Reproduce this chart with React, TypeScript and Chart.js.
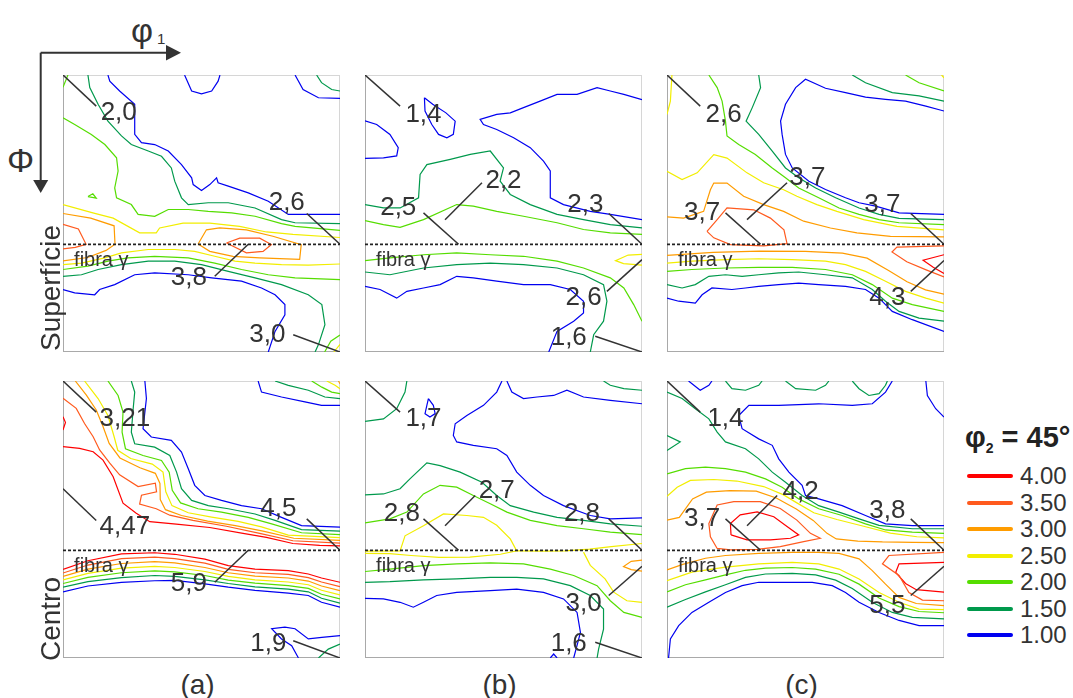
import React, { useEffect, useRef } from "react";
import { Chart, registerables } from "chart.js";

Chart.register(...registerables);

type Pt = [number, number];
type Note = { text: string; tip: Pt; end: Pt; at: Pt };

// ODF contour levels (legend order, highest first)
const levelValues = [4.0, 3.5, 3.0, 2.5, 2.0, 1.5, 1.0];
const levelColors = ["#ff0000", "#ff5a1e", "#ff9c00", "#f2ee00", "#55dd00", "#00994c", "#0000f0"];
const levelTicks = ["4.00", "3.50", "3.00", "2.50", "2.00", "1.50", "1.00"];

const columnLabels = ["(a)", "(b)", "(c)"];
const rowLabels = ["Superfície", "Centro"];

// gamma fibre position (Φ, degrees) and its caption
const GAMMA_PHI = 55;
const fibreCaption = "fibra γ";
const fibreCaptionAt: Pt = [3.6, 60.4];

/* ---------- Superfície (a) ---------- */
const supA_blue1: Pt[] = [[39.5, 0], [41.8, 5.2], [45, 6.1], [48.3, 5.2], [50.4, 2], [51, 0]];
const supA_blue2: Pt[] = [[75.4, 0], [78, 4.7], [83, 7.4], [90, 7.6]];
const supA_blue3: Pt[] = [[14.6, 0], [15.2, 2], [18.4, 5.2], [23.3, 9.5], [23.3, 19.3], [25.5, 22], [29.8, 22.6], [34.2, 24.7], [38.5, 29.1], [41.8, 33.4], [42.3, 35.6], [45, 37.5], [47.7, 35.6], [49.9, 33.4], [50.4, 35], [53.7, 36.1], [60.2, 38.3], [66.7, 41], [73.2, 45.3], [90, 45.3]];
const supA_blue4: Pt[] = [[0, 69.7], [3.8, 70.8], [10.3, 71.4], [11.9, 69.7], [16.8, 68.1], [23.3, 64.9], [29.8, 64.3], [40.7, 64.9], [48.3, 65.9], [58, 67], [64.5, 69.2], [68.9, 71.4], [72.1, 74.6], [72.1, 77.9], [68.9, 83.3], [66.7, 90]];
const supA_green1: Pt[] = [[8.1, 0], [8.7, 4.1], [11.4, 9.5], [14.6, 15], [19, 19.8], [22.2, 22.6], [27.7, 24.7], [32, 26.4], [35.2, 30.2], [36.3, 34.5], [38.5, 39.9], [40.7, 42.1], [47.2, 41.5], [53.7, 41.5], [62.4, 43.2], [71, 47], [75.4, 48], [90, 48.3]];
const supA_green2: Pt[] = [[82.4, 0], [84, 2.5], [87.3, 4.7], [90, 5.2]];
const supA_green3: Pt[] = [[0, 65.4], [6, 64.9], [11.4, 63.2], [19, 61.6], [27.7, 60.5], [36.3, 60.5], [45, 61.6], [53.7, 63.8], [62.4, 65.9], [71, 68.1], [79.7, 71.4], [84.1, 74.6], [85.1, 81.1], [83, 87.6], [81.9, 90]];
const supA_lime1: Pt[] = [[0, 4], [1.6, 0]];
const supA_lime2: Pt[] = [[8.1, 39.5], [9.7, 38.6], [10.8, 40], [8.1, 39.5]];
const supA_lime3: Pt[] = [[0, 13.9], [3.8, 16.1], [9.2, 19.3], [13.6, 22.6], [17.4, 26.9], [17.9, 31.2], [16.8, 36.7], [17.4, 39.9], [22.2, 42.1], [24.4, 45.3], [29.8, 45.9], [34.2, 43.7], [40.7, 43.7], [47.2, 44.3], [54.8, 44.8], [62.4, 45.9], [71, 48.3], [75.4, 49.2], [90, 50.5]];
const supA_lime4: Pt[] = [[0, 63.2], [8.1, 62.1], [14.6, 60.5], [21.1, 59.4], [29.8, 58.9], [40.7, 59.4], [49.3, 61.1], [58, 63.2], [66.7, 64.9], [75.4, 65.9], [90, 66.5]];
const supA_lime5: Pt[] = [[85, 90], [87, 86.5], [90, 84.5]];
const supA_yellow1: Pt[] = [[0, 42.1], [9.7, 44.8], [16.3, 46.5], [24.9, 51.3], [30.3, 51.3], [31.4, 49.7], [39, 48.1], [47.7, 48.1], [57.4, 49.2], [66.1, 51], [74.7, 51.8], [90, 52.8]];
const supA_yellow2: Pt[] = [[0, 61.6], [6, 61.1], [13.6, 59.4], [19, 57.8], [27.7, 56.7], [36.3, 56.7], [42.8, 57.3], [49.3, 58.9], [55.9, 60.5], [62.4, 61.1], [71, 61.6], [79.7, 61.8], [90, 61.4]];
const supA_yellow3: Pt[] = [[88, 90], [90, 87.5]];
const supA_orange1: Pt[] = [[0, 45], [9, 46.5], [16.6, 49], [16.9, 55], [14, 57], [8, 59.3], [0, 60.4]];
const supA_orange2: Pt[] = [[43.9, 54.9], [46.6, 50.3], [50.9, 49.7], [59.6, 50.3], [68.2, 52.4], [77.4, 55.1], [76.9, 59.9], [63.9, 59.4], [55.2, 58.9], [47.7, 57.3], [43.9, 54.9]];
const supA_tomato1: Pt[] = [[0, 48.5], [5, 50], [7.5, 55], [4, 56], [0, 56.5]];
const supA_tomato2: Pt[] = [[53.1, 54.6], [57.4, 53], [63.9, 53], [67.7, 55.1], [65, 57.3], [59.6, 57.8], [53.1, 54.6]];
const supA_notes: Note[] = [
  { text: "2,0", tip: [0, 0], end: [10.8, 10.1], at: [18.1, 12.3] },
  { text: "2,6", tip: [90, 55], end: [79.2, 45], at: [72.7, 41.5] },
  { text: "3,8", tip: [60.2, 55], end: [49.3, 65.4], at: [40.9, 65.9] },
  { text: "3,0", tip: [90, 90], end: [74.8, 84.4], at: [66.4, 84.4] },
];

/* ---------- Superfície (b) ---------- */
const supB_blue1: Pt[] = [[0, 14.9], [3.8, 16.1], [8.1, 19.3], [10.8, 23.6], [10.3, 26.3], [6, 26.9], [0, 27.1]];
const supB_blue2: Pt[] = [[19.3, 7.4], [22, 9.5], [26.3, 12.3], [29.3, 15], [28.7, 19.3], [26.6, 20.4], [23.9, 19.3], [21.7, 16.1], [19.5, 11.7], [19.3, 7.4]];
const supB_blue3: Pt[] = [[90, 8], [84.1, 6.3], [79.7, 5.2], [75.4, 4.1], [68.9, 6.3], [62.4, 6.3], [56.9, 8.5], [51.5, 10.6], [47.2, 12.3], [42.8, 12.8], [37.4, 14.4], [38.5, 16.1], [42.8, 17.7], [48.3, 20.4], [53.7, 23.6], [58, 28], [60.2, 31.2], [60.2, 36.7], [60.2, 39.9], [64.5, 42.1], [73.2, 44.3], [79.7, 45.3], [90, 47]];
const supB_blue4: Pt[] = [[0, 68.7], [4.9, 69.7], [10.3, 72.5], [13.6, 70.3], [19, 69.2], [24.4, 68.1], [29.8, 65.4], [35.2, 65.9], [42.8, 67], [51.5, 68.1], [60.2, 68.1], [66.7, 69.7], [71, 73.5], [71, 77.3], [67.8, 80], [62.4, 83.3], [59.7, 90]];
const supB_green1: Pt[] = [[0, 42.1], [6, 43.2], [11.4, 43.2], [17.4, 39.9], [17.9, 32.3], [20.1, 29.1], [27.7, 27.4], [34.2, 25.8], [40.7, 24.7], [45, 30.2], [43.9, 34.5], [47.2, 38.8], [53.7, 42.1], [62.4, 45.3], [71, 47], [79.7, 48.6], [90, 49.7]];
const supB_green2: Pt[] = [[0, 64], [8.1, 64.9], [19, 62.7], [29.8, 61.6], [40.7, 61.1], [51.5, 61.6], [62.4, 62.7], [71, 64.9], [77.5, 68.1], [78.6, 73.5], [77.5, 80], [74.3, 84.4], [73.2, 90]];
const supB_lime1: Pt[] = [[0, 47.3], [6, 48.6], [11.4, 49.5], [19, 47], [29.8, 42.1], [35.2, 42.6], [42.8, 44.3], [51.5, 45.9], [62.4, 48], [71, 50.2], [79.7, 51.3], [90, 51.8]];
const supB_lime2: Pt[] = [[0, 60.3], [8.1, 59.4], [19, 58.4], [29.8, 57.8], [40.7, 58.4], [51.5, 58.9], [62.4, 60.5], [71, 62.7], [79.7, 65.9], [84.1, 69.2], [87.3, 74.6], [90, 80]];
const supB_yellow1: Pt[] = [[90, 58.3], [85.5, 58.5], [81.4, 60.3], [84, 61.3], [90, 61.8]];
const supB_notes: Note[] = [
  { text: "1,4", tip: [0, 0], end: [11.4, 10.1], at: [19, 12.8] },
  { text: "2,2", tip: [38, 35], end: [26, 47], at: [45, 34.5] },
  { text: "2,5", tip: [30.4, 55], end: [19, 44.8], at: [10.8, 43.2] },
  { text: "2,3", tip: [90, 55], end: [79.2, 45], at: [71.6, 42.1] },
  { text: "2,6", tip: [90, 60], end: [78.6, 70.3], at: [71, 72.5] },
  { text: "1,6", tip: [90, 90], end: [74.8, 84.9], at: [66.2, 85.5] },
];

/* ---------- Superfície (c) ---------- */
const supC_blue1: Pt[] = [[90, 11.7], [84.1, 10.1], [77.5, 8.5], [71, 7.9], [64.5, 7.2], [58, 5.7], [51.5, 4.3], [45, 1.4], [41.8, 4.1], [38.5, 9.5], [36.9, 15], [37.4, 19.3], [38.5, 25.8], [40.7, 30.2], [46.1, 34.5], [51.5, 37.2], [58, 39.9], [62.4, 41.5], [67.8, 42.6], [75.4, 44.8], [90, 45.3]];
const supC_blue2: Pt[] = [[0, 72.5], [3.8, 73.5], [9.2, 74.1], [11.4, 71.4], [14.6, 69.2], [21.1, 69.7], [25.5, 69.2], [29.8, 68.7], [36.3, 68.1], [42.8, 67.6], [49.3, 68.1], [58, 68.7], [64.5, 69.7], [68.9, 72.5], [73.2, 76.8], [79.7, 79.5], [90, 83.3]];
const supC_green1: Pt[] = [[29.8, 0], [30.4, 4.1], [27.7, 10.6], [25.7, 15], [29.8, 19.3], [34.2, 24.7], [38.5, 30.2], [42.8, 33.4], [48.3, 36.7], [54.8, 39.9], [62.4, 43.2], [68.9, 45.3], [75.4, 46.6], [90, 47]];
const supC_green2: Pt[] = [[60.2, 0], [64.5, 2.5], [73.2, 5.7], [81.9, 6.8], [90, 8.5]];
const supC_green3: Pt[] = [[0, 68.1], [4.9, 69.2], [9.2, 68.1], [13.6, 65.4], [19, 64.9], [24.4, 65.4], [29.8, 64.9], [36.3, 64.3], [42.8, 64], [51.5, 64.9], [60.2, 65.9], [66.7, 69.7], [71, 73.5], [75.4, 76.8], [81.9, 79], [90, 80]];
const supC_lime1: Pt[] = [[13.6, 0], [16.3, 4.1], [17.9, 8.5], [19, 15], [19.5, 19.8], [23.3, 22.6], [28.7, 25.8], [34.2, 30.2], [38.5, 33.4], [42.8, 36.7], [49.3, 39.9], [55.9, 43.2], [62.4, 45.3], [68.9, 47], [75.4, 48], [90, 48.6]];
const supC_lime2: Pt[] = [[77.5, 0], [81.9, 2.5], [90, 5.2]];
const supC_lime3: Pt[] = [[0, 63.8], [8.1, 63.2], [19, 62.7], [29.8, 62.5], [40.7, 62.5], [51.5, 63.2], [60.2, 64.9], [66.7, 68.1], [73.2, 72.5], [79.7, 74.6], [90, 76.8]];
const supC_yellow1: Pt[] = [[0, 31.3], [4.9, 34], [9.8, 31.8], [15.2, 25.9], [19.5, 27], [26, 31.8], [31.4, 35], [37.9, 37.3], [42.2, 39.4], [48.7, 42.1], [55.2, 44.3], [63.9, 47], [74.7, 49.2], [90, 50.3]];
const supC_yellow2: Pt[] = [[1.6, 0], [1.1, 8.5], [0, 12.8]];
const supC_yellow3: Pt[] = [[89.2, 0], [90, 0.9]];
const supC_yellow4: Pt[] = [[0, 61.1], [8.1, 60.5], [19, 60], [29.8, 59.7], [40.7, 60], [51.5, 60.5], [58, 61.6], [64.5, 63.8], [71, 67], [77.5, 70.3], [84.1, 72.5], [90, 74.1]];
const supC_orange1: Pt[] = [[0, 46.1], [5.4, 46.5], [11.9, 44.3], [14.1, 37.3], [15.2, 35.1], [19.5, 35.1], [24.9, 39.4], [31.4, 42.1], [37.9, 44.3], [44.4, 47.5], [53.1, 49.7], [61.7, 51.3], [72.6, 52.4], [90, 52.6]];
const supC_orange2: Pt[] = [[0, 58.6], [15, 57.6], [30, 57.2], [45, 57.3], [57, 57.9], [65, 59.5], [72, 63.5], [78, 67.2], [84, 69.8], [90, 71.2]];
const supC_tomato1: Pt[] = [[13, 50.8], [16.3, 47], [19.5, 43.2], [28.2, 43.8], [33.6, 46.5], [38, 50.3], [39, 54.8], [31.4, 55.5], [20.6, 55.1], [15.2, 52.9], [13, 50.8]];
const supC_tomato2: Pt[] = [[90, 55.5], [74.7, 55.9], [73.1, 57.5], [77.9, 60.7], [84.4, 63.4], [90, 65.6]];
const supC_red1: Pt[] = [[90, 58.4], [83.2, 60.2], [86.5, 62.5], [90, 64.5]];
const supC_notes: Note[] = [
  { text: "2,6", tip: [0, 0], end: [10.8, 10.1], at: [18.4, 12.8] },
  { text: "3,7", tip: [39, 35], end: [26, 47], at: [45.6, 33.4] },
  { text: "3,7", tip: [30.4, 55], end: [19, 44.8], at: [11.4, 44.8] },
  { text: "3,7", tip: [90, 55], end: [79.2, 45], at: [70, 42.1] },
  { text: "4,3", tip: [90, 60.3], end: [79.2, 70.3], at: [71.6, 72.5] },
];

/* ---------- Centro (a) ---------- */
const cenA_blue1: Pt[] = [[26.6, 0], [27.1, 5.7], [26, 15.5], [28.7, 18.2], [35.2, 19.3], [38.5, 23.1], [40.7, 28.5], [42.8, 33.9], [46.1, 37.2], [51.5, 38.8], [58, 40.5], [64.5, 41.5], [71, 44.3], [77.5, 47], [90, 47.5]];
const cenA_blue2: Pt[] = [[0, 68.5], [8.1, 66.6], [19, 65.4], [29.8, 64.9], [36.3, 64.8], [46.1, 65.9], [53.7, 67], [62.4, 68], [73.2, 68.9], [79.7, 69.7], [84, 71.9], [90, 73.5]];
const cenA_blue3: Pt[] = [[63.4, 0], [64.5, 3.6], [71, 5.2], [78.6, 6.8], [84, 7.9], [90, 7.9]];
const cenA_blue4: Pt[] = [[90, 82.7], [84.1, 83.3], [79.7, 83.8], [75.4, 80.5], [72.1, 80], [67.8, 80.5], [71, 83.8], [74.3, 86], [76.5, 90]];
const cenA_green1: Pt[] = [[22.2, 0], [23.3, 3.6], [22.8, 9], [22.2, 16.6], [23.3, 20.4], [29.8, 21.5], [34.7, 24.2], [36.9, 29.6], [38.5, 35], [41.8, 38.8], [47.2, 40.5], [53.7, 41.5], [62.4, 43.2], [68.9, 45.3], [77.5, 48.3], [90, 48.8]];
const cenA_green2: Pt[] = [[0, 67], [8.1, 65.2], [19, 63.9], [29.8, 63.2], [36.3, 63.5], [46.1, 64.6], [53.7, 65.8], [62.4, 66.9], [73.2, 67.6], [79.7, 68.5], [84, 70.6], [90, 72.2]];
const cenA_green3: Pt[] = [[68.9, 0], [73.2, 1.4], [79.7, 3], [85.1, 5.2], [90, 5.7]];
const cenA_green4: Pt[] = [[83, 90], [86.2, 87.1], [90, 85.5]];
const cenA_lime1: Pt[] = [[14.6, 0], [17.9, 4.7], [19.5, 10.1], [19.2, 16.6], [20.3, 22], [26, 24.2], [32, 25.8], [34.5, 29.6], [35.5, 35.5], [38.2, 39.6], [43.9, 41.5], [51.5, 42.6], [60.2, 44.3], [67.8, 46.4], [77.5, 49.3], [90, 49.9]];
const cenA_lime2: Pt[] = [[0, 65.8], [8.1, 63.8], [19, 62.3], [29.8, 61.7], [36.3, 62], [46.1, 63.2], [53.7, 64.7], [62.4, 65.7], [73.2, 66.5], [79.7, 67.4], [84, 69.3], [90, 70.8]];
const cenA_lime3: Pt[] = [[80.8, 0], [84.1, 2], [87.3, 3.6], [90, 4.1]];
const cenA_yellow1: Pt[] = [[7, 0], [11.4, 5.7], [14.6, 11.2], [16.5, 17.7], [17.8, 22.5], [22, 25.2], [29, 27], [32.5, 29.6], [33.4, 36], [35.4, 40.5], [40.7, 42.8], [48.3, 44.2], [56.9, 45.6], [64.5, 47.4], [73.2, 50.1], [90, 50.9]];
const cenA_yellow2: Pt[] = [[0, 64.6], [8.1, 62.5], [19, 60.8], [29.8, 60.2], [36.3, 60.6], [46.1, 61.9], [53.7, 63.5], [62.4, 64.6], [73.2, 65.3], [79.7, 66.2], [84, 68], [90, 69.5]];
const cenA_yellow3: Pt[] = [[85.7, 0], [88.4, 1.4], [90, 2.5]];
const cenA_orange1: Pt[] = [[4, 0], [7.6, 4.6], [10.8, 9.4], [13, 14.8], [15, 20.3], [18.5, 25], [25, 28.2], [30, 30], [31.5, 33.3], [31.6, 38.5], [33.3, 41.8], [38.5, 43.7], [47, 45.5], [56, 47], [65, 48.8], [75, 51.1], [90, 51.8]];
const cenA_orange2: Pt[] = [[0, 63.5], [8.1, 61.1], [19, 59.3], [29.8, 58.7], [36.3, 59.1], [46.1, 60.6], [53.7, 62.3], [62.4, 63.4], [73.2, 64], [79.7, 65], [84, 66.6], [90, 68.1]];
const cenA_orange3: Pt[] = [[89.5, 0], [90, 0.9]];
const cenA_tomato1: Pt[] = [[0, 5.6], [4.3, 8.9], [7, 13.8], [9.8, 18.1], [11.9, 22.4], [15.2, 26.7], [18.4, 30.5], [24.4, 34.3], [30, 33.2], [30.4, 36], [25.5, 37.1], [24.9, 40], [30.3, 41.5], [34.7, 43.6], [42.2, 45.3], [53.1, 47.2], [63.9, 49.5], [74.7, 51.9], [90, 52.7]];
const cenA_tomato2: Pt[] = [[0, 62.4], [8.1, 59.8], [19, 57.7], [29.8, 57.2], [36.3, 57.7], [46.1, 59.2], [53.7, 61.2], [62.4, 62.3], [73.2, 62.8], [79.7, 63.9], [84, 65.3], [90, 66.8]];
const cenA_red1: Pt[] = [[0, 21.3], [5.4, 21.9], [9.8, 23], [13, 25.7], [16.3, 31.1], [19.5, 39.7], [23.8, 43], [28.2, 45.7], [36.8, 46.5], [47.7, 47.6], [58.5, 49.5], [66.1, 50.8], [74.7, 52.8], [83.4, 53.4], [90, 53.6]];
const cenA_red2: Pt[] = [[0, 61.2], [8.1, 58.4], [19, 56.2], [29.8, 55.8], [36.3, 56.3], [46.1, 57.9], [53.7, 60], [62.4, 61.1], [73.2, 61.6], [79.7, 62.7], [84, 64], [90, 65.4]];
const cenA_red3: Pt[] = [[0, 11.6], [0.8, 13.5], [0, 15.9]];
const cenA_notes: Note[] = [
  { text: "3,21", tip: [0, 0], end: [10.8, 10.1], at: [20.1, 12.3] },
  { text: "4,47", tip: [0, 35], end: [10.8, 45.3], at: [20.1, 47.5] },
  { text: "4,5", tip: [90, 55], end: [79.2, 44.8], at: [70, 41.5] },
  { text: "5,9", tip: [60.2, 55], end: [49.3, 65.4], at: [40.9, 66] },
  { text: "1,9", tip: [90, 90], end: [74.8, 84.4], at: [66.7, 85.5] },
];

/* ---------- Centro (b) ---------- */
const cenB_blue1: Pt[] = [[20.6, 5.7], [22.2, 7.9], [22.8, 10.6], [21.1, 11.7], [19.5, 10.6], [20.1, 7.9], [20.6, 5.7]];
const cenB_blue2: Pt[] = [[90, 7.4], [79.7, 6.3], [71, 5.2], [65.6, 3], [61.3, 4.7], [55.9, 5.2], [51.5, 5.7], [47.7, 3.6], [46.1, 0]];
const cenB_blue3: Pt[] = [[44.5, 0], [42.8, 3.6], [38.5, 7.9], [33.1, 11.2], [29.3, 13.9], [28.7, 17.7], [29.8, 19.8], [35.2, 20.9], [42.8, 22], [46.1, 24.2], [49.3, 29.6], [53.7, 33.9], [58, 37.2], [64.5, 40.5], [73.2, 43.7], [79.7, 44.8], [90, 44.5]];
const cenB_blue4: Pt[] = [[0, 70.6], [6, 70.8], [11.4, 71.9], [15.7, 73.5], [19, 71.9], [23.3, 69.7], [29.8, 68.7], [40.7, 68.1], [49.3, 67.6], [58, 68.7], [64.5, 70.8], [68.9, 75.2], [70, 81.7], [68.9, 85.9], [67.8, 90]];
const cenB_blue5: Pt[] = [[60.2, 90], [61.3, 88.7], [62.4, 90]];
const cenB_green1: Pt[] = [[13.6, 0], [13, 3.6], [10.3, 9], [6, 12.3], [0, 13.1]];
const cenB_green2: Pt[] = [[77.5, 0], [79.7, 1.4], [84.1, 2.5], [90, 3]];
const cenB_green3: Pt[] = [[0, 37], [6, 36.7], [11.4, 35], [14.6, 31.8], [20.1, 26.6], [24.4, 27.5], [30.9, 29.6], [38, 32.9], [42.8, 37.2], [47.2, 40.5], [54.8, 42.6], [62.4, 44.3], [71, 45.3], [79.7, 46.4], [90, 47.2]];
const cenB_green4: Pt[] = [[0, 65.4], [8.1, 65.2], [19, 64.6], [29.8, 64.3], [40.7, 63.8], [49.3, 63.8], [58, 64.3], [66.7, 66.5], [73.2, 69.7], [77.5, 74.1], [77.5, 80.6], [75.9, 87.1], [75.4, 90]];
const cenB_lime1: Pt[] = [[0, 46.1], [8.1, 44.8], [13.6, 42.6], [19, 36.7], [24.4, 33.9], [29.8, 34.5], [35.2, 37.2], [40.7, 39.9], [46.1, 42.6], [53.7, 45.3], [62.4, 47], [71, 48], [79.7, 49.1], [90, 49.9]];
const cenB_lime2: Pt[] = [[0, 61.9], [8.1, 61.1], [19, 60], [29.8, 59.4], [40.7, 59.1], [51.5, 59.4], [60.2, 61.1], [67.8, 63.2], [75.4, 66.5], [79.7, 71.4], [84.1, 75.2], [90, 76.8]];
const cenB_yellow1: Pt[] = [[0, 55.3], [11.4, 55.2], [13, 50.3], [19, 47], [25.5, 43.2], [33.1, 43.7], [38.5, 44.3], [42.8, 46.9], [47.2, 51.3], [49.3, 55.2], [44, 56.3], [34, 57.2], [24, 57.3], [15, 56.7], [8, 56.1], [0, 56]];
const cenB_yellow2: Pt[] = [[49.3, 55.2], [58, 55.3], [65, 55.2], [73, 54.6], [80, 53.8], [90, 52.8]];
const cenB_yellow3: Pt[] = [[71, 55.6], [73.2, 59.9], [78, 64.3], [80.8, 68.6], [85.1, 71.4], [90, 71.9]];
const cenB_orange1: Pt[] = [[90, 58.2], [86.5, 58.6], [84, 60.3], [86.5, 61.3], [90, 61.8]];
const cenB_notes: Note[] = [
  { text: "1,7", tip: [0, 0], end: [11.4, 10.1], at: [19, 12.3] },
  { text: "2,7", tip: [35.8, 37.2], end: [26, 47], at: [42.8, 35.6] },
  { text: "2,8", tip: [30.4, 55], end: [19, 44.8], at: [12, 43.2] },
  { text: "2,8", tip: [90, 55], end: [79.2, 44.8], at: [70.5, 43.2] },
  { text: "3,0", tip: [90, 60.2], end: [79.2, 69.7], at: [71, 72.5] },
  { text: "1,6", tip: [90, 90], end: [74.8, 84.9], at: [66.2, 85.5] },
];

/* ---------- Centro (c) ---------- */
const cenC_blue1: Pt[] = [[7, 0], [10.8, 3], [13.6, 1.4], [14.6, 0]];
const cenC_blue2: Pt[] = [[84.1, 0], [84.6, 4.7], [87.3, 9], [90, 11.7]];
const cenC_blue3: Pt[] = [[73.2, 0], [71, 3.6], [66.7, 7.4], [60.2, 7.9], [49.3, 7.4], [36.3, 7.9], [26.6, 7.9], [23.3, 11.2], [24.4, 15.5], [29.8, 18.8], [34.2, 20.9], [36.3, 25.3], [39.6, 29.6], [43.9, 33.9], [45, 37.2], [49.3, 38.3], [56.9, 40.5], [64.5, 43.7], [71, 46.4], [79.7, 47], [90, 47]];
const cenC_blue4: Pt[] = [[0.5, 90], [1.1, 83.8], [3.8, 79.5], [8.1, 75.2], [13.6, 71.9], [19, 68.7], [24.4, 66.5], [29.8, 65.4], [40.7, 65.4], [47.2, 65.4], [53.7, 66.5], [58, 68.7], [62.4, 71.9], [68.9, 75.2], [75.4, 77.8], [81.9, 79.5], [90, 79.5]];
const cenC_green1: Pt[] = [[19, 0], [21.1, 2.5], [25.5, 3], [29.8, 1.4], [30.9, 0]];
const cenC_green2: Pt[] = [[38.5, 0], [41.8, 2.5], [48.3, 3], [51.5, 1.4], [52.6, 0]];
const cenC_green3: Pt[] = [[60.2, 0], [62.4, 2.5], [65.6, 4.7], [68.9, 4.1], [71, 1.4], [71.6, 0]];
const cenC_green4: Pt[] = [[0, 17.7], [4.3, 19.8], [0, 22.6]];
const cenC_green5: Pt[] = [[0, 3.6], [4.9, 5.7], [9.2, 9], [13.6, 12.3], [16.3, 16.6], [19, 19.8], [25.5, 22], [29.8, 25.3], [34.2, 29.6], [38.5, 32.9], [43.9, 37.2], [49.3, 40.5], [55.9, 42.6], [62.4, 44.8], [68.9, 46.9], [79.7, 48], [90, 48]];
const cenC_green6: Pt[] = [[0, 73.5], [6, 71], [12.5, 68.5], [19, 66.2], [25.5, 63.8], [32, 62.7], [40.7, 62.5], [48.3, 63], [54.8, 64.7], [60.2, 67.4], [66.7, 71.9], [73.2, 75.2], [79.7, 76.8], [90, 77.3]];
const cenC_lime1: Pt[] = [[0, 30.2], [6, 28.5], [12.5, 28], [19, 28.5], [25.5, 29.6], [32, 31.8], [37.4, 34.5], [42.8, 38.3], [49.3, 41.5], [56.9, 43.7], [64.5, 46.4], [71, 48.4], [79.7, 49.1], [90, 49.5]];
const cenC_lime2: Pt[] = [[0, 68.5], [6, 66.2], [12.5, 64.6], [19, 63], [25.5, 61.5], [32, 60.8], [40.7, 60.6], [48.3, 61.1], [55.9, 62.8], [62.4, 66], [68.9, 70.5], [75.4, 73.3], [81.9, 74.9], [90, 75.3]];
const cenC_yellow1: Pt[] = [[0, 37.5], [3.3, 34.5], [7.6, 32.3], [15.2, 32], [22.7, 32.5], [31.4, 34.3], [37.9, 37], [42.2, 39.6], [47.7, 42.8], [55.2, 45], [63.9, 47.2], [72.6, 49.4], [81.2, 50.6], [90, 51]];
const cenC_yellow2: Pt[] = [[0, 64.9], [8.1, 62.1], [19, 60.5], [29.8, 59.4], [40.7, 58.9], [49.3, 59.4], [55.9, 61.1], [62.4, 64.3], [68.9, 68.7], [75.4, 71.9], [81.9, 74.1], [90, 74.3]];
const cenC_orange1: Pt[] = [[0, 45.2], [4, 44.3], [8.3, 38.3], [12.8, 36.1], [20.4, 35.6], [29, 35.8], [35.5, 38], [42, 41.6], [47.5, 45.3], [52, 49.5], [55, 51.3], [62, 52], [70, 52.3], [80, 52.4], [90, 52.5]];
const cenC_orange2: Pt[] = [[0, 61.4], [5.1, 59.6], [12.5, 57.6], [19, 56.7], [29.8, 56], [40.7, 55.7], [49.3, 55.7], [55.9, 56], [62.4, 57.8], [66.7, 61.6], [71, 66], [75.4, 70.3], [81, 72.3], [90, 73]];
const cenC_tomato1: Pt[] = [[16.3, 54.4], [14.1, 50.6], [13.6, 46.3], [16.3, 40.3], [21.7, 39.2], [30.3, 39.2], [36.8, 41.4], [42.2, 45.2], [46.6, 49.5], [49.8, 51.1], [44.4, 52.2], [36.8, 53.8], [29.3, 54.7], [20.6, 54.9], [16.3, 54.4]];
const cenC_tomato2: Pt[] = [[90, 55.7], [72.1, 56.7], [70, 59.4], [75.4, 63.2], [78.6, 68.7], [83, 71.2], [90, 71.4]];
const cenC_red1: Pt[] = [[20.8, 50], [20.6, 46.3], [23.8, 43.5], [29.3, 42.5], [34.7, 44.1], [39, 47.3], [42.8, 50], [40.1, 51.1], [33.6, 51.6], [26, 51.6], [20.8, 50]];
const cenC_red2: Pt[] = [[90, 58.9], [75.4, 59.4], [74.3, 62.2], [77.5, 65.8], [81, 67.8], [90, 68.6]];
const cenC_notes: Note[] = [
  { text: "1,4", tip: [0, 0], end: [10.8, 10.1], at: [19, 12.3] },
  { text: "4,2", tip: [35.8, 37.2], end: [26, 47], at: [43.4, 36.1] },
  { text: "3,7", tip: [30.4, 55], end: [19, 44.8], at: [11.4, 44.8] },
  { text: "3,8", tip: [90, 55], end: [79.2, 44.8], at: [71.6, 42.1] },
  { text: "5,5", tip: [90, 60.2], end: [79.2, 69.7], at: [71.6, 73] },
];

/* ---------- panel tables ---------- */
type Contour = [number, Pt[]];
type PanelSpec = { row: number; col: number; contours: Contour[]; notes: Note[] };

const panels: PanelSpec[] = [
  {
    row: 0, col: 0, notes: supA_notes,
    contours: [
      [1.0, supA_blue1], [1.0, supA_blue2], [1.0, supA_blue3], [1.0, supA_blue4],
      [1.5, supA_green1], [1.5, supA_green2], [1.5, supA_green3],
      [2.0, supA_lime1], [2.0, supA_lime2], [2.0, supA_lime3], [2.0, supA_lime4], [2.0, supA_lime5],
      [2.5, supA_yellow1], [2.5, supA_yellow2], [2.5, supA_yellow3],
      [3.0, supA_orange1], [3.0, supA_orange2],
      [3.5, supA_tomato1], [3.5, supA_tomato2],
    ],
  },
  {
    row: 0, col: 1, notes: supB_notes,
    contours: [
      [1.0, supB_blue1], [1.0, supB_blue2], [1.0, supB_blue3], [1.0, supB_blue4],
      [1.5, supB_green1], [1.5, supB_green2],
      [2.0, supB_lime1], [2.0, supB_lime2],
      [2.5, supB_yellow1],
    ],
  },
  {
    row: 0, col: 2, notes: supC_notes,
    contours: [
      [1.0, supC_blue1], [1.0, supC_blue2],
      [1.5, supC_green1], [1.5, supC_green2], [1.5, supC_green3],
      [2.0, supC_lime1], [2.0, supC_lime2], [2.0, supC_lime3],
      [2.5, supC_yellow1], [2.5, supC_yellow2], [2.5, supC_yellow3], [2.5, supC_yellow4],
      [3.0, supC_orange1], [3.0, supC_orange2],
      [3.5, supC_tomato1], [3.5, supC_tomato2],
      [4.0, supC_red1],
    ],
  },
  {
    row: 1, col: 0, notes: cenA_notes,
    contours: [
      [1.0, cenA_blue1], [1.0, cenA_blue2], [1.0, cenA_blue3], [1.0, cenA_blue4],
      [1.5, cenA_green1], [1.5, cenA_green2], [1.5, cenA_green3], [1.5, cenA_green4],
      [2.0, cenA_lime1], [2.0, cenA_lime2], [2.0, cenA_lime3],
      [2.5, cenA_yellow1], [2.5, cenA_yellow2], [2.5, cenA_yellow3],
      [3.0, cenA_orange1], [3.0, cenA_orange2], [3.0, cenA_orange3],
      [3.5, cenA_tomato1], [3.5, cenA_tomato2],
      [4.0, cenA_red1], [4.0, cenA_red2], [4.0, cenA_red3],
    ],
  },
  {
    row: 1, col: 1, notes: cenB_notes,
    contours: [
      [1.0, cenB_blue1], [1.0, cenB_blue2], [1.0, cenB_blue3], [1.0, cenB_blue4], [1.0, cenB_blue5],
      [1.5, cenB_green1], [1.5, cenB_green2], [1.5, cenB_green3], [1.5, cenB_green4],
      [2.0, cenB_lime1], [2.0, cenB_lime2],
      [2.5, cenB_yellow1], [2.5, cenB_yellow2], [2.5, cenB_yellow3],
      [3.0, cenB_orange1],
    ],
  },
  {
    row: 1, col: 2, notes: cenC_notes,
    contours: [
      [1.0, cenC_blue1], [1.0, cenC_blue2], [1.0, cenC_blue3], [1.0, cenC_blue4],
      [1.5, cenC_green1], [1.5, cenC_green2], [1.5, cenC_green3], [1.5, cenC_green4], [1.5, cenC_green5], [1.5, cenC_green6],
      [2.0, cenC_lime1], [2.0, cenC_lime2],
      [2.5, cenC_yellow1], [2.5, cenC_yellow2],
      [3.0, cenC_orange1], [3.0, cenC_orange2],
      [3.5, cenC_tomato1], [3.5, cenC_tomato2],
      [4.0, cenC_red1], [4.0, cenC_red2],
    ],
  },
];

/* ---------- layout ---------- */
const FONT = '"Liberation Sans", Arial, Helvetica, sans-serif';
const INK = "#333333";
const PANEL_SIZE = 277;
const PANEL_LEFT = [63, 365, 667];
const PANEL_TOP = [75, 381];

const colorOf = (level: number) => levelColors[levelValues.indexOf(level)];
const toXY = (pts: Pt[]) => pts.map(([x, y]) => ({ x, y }));

function OdfPanel({ row, col, contours, notes }: PanelSpec) {
  const ref = useRef<HTMLCanvasElement | null>(null);

  useEffect(() => {
    const canvas = ref.current;
    if (!canvas) return;

    // overlays first so they are painted on top of the contours
    const overlay: any[] = [
      { data: toXY([[0, GAMMA_PHI], [90, GAMMA_PHI]]), borderColor: "#222", borderWidth: 1.8, borderDash: [3, 2] },
      ...notes.map((n) => ({ data: toXY([n.tip, n.end]), borderColor: INK, borderWidth: 1.5 })),
    ];
    const lines = contours.map(([lvl, pts]) => ({ data: toXY(pts), borderColor: colorOf(lvl), borderWidth: 1.2 }));
    const datasets = [...overlay, ...lines].map((d) => ({
      ...d, showLine: true, pointRadius: 0, pointHoverRadius: 0, fill: false, tension: 0,
    }));

    const panelDecor = {
      id: "panelDecor",
      beforeDatasetsDraw(chart: any) {
        const { ctx, chartArea: a } = chart;
        ctx.save();
        ctx.lineWidth = 1;
        ctx.strokeStyle = "#d6d6d6";
        ctx.beginPath();
        ctx.moveTo(a.left, a.top + 0.5); ctx.lineTo(a.right, a.top + 0.5);
        ctx.moveTo(a.right - 0.5, a.top); ctx.lineTo(a.right - 0.5, a.bottom);
        ctx.stroke();
        ctx.strokeStyle = "#a9a9a9";
        ctx.beginPath();
        ctx.moveTo(a.left + 0.5, a.top); ctx.lineTo(a.left + 0.5, a.bottom);
        ctx.moveTo(a.left, a.bottom - 0.5); ctx.lineTo(a.right, a.bottom - 0.5);
        ctx.stroke();
        ctx.restore();
      },
      afterDatasetsDraw(chart: any) {
        const { ctx } = chart;
        const xs = chart.scales.x;
        const ys = chart.scales.y;
        ctx.save();
        ctx.fillStyle = INK;
        ctx.textBaseline = "middle";
        ctx.font = `20px ${FONT}`;
        ctx.textAlign = "left";
        ctx.fillText(fibreCaption, xs.getPixelForValue(fibreCaptionAt[0]), ys.getPixelForValue(fibreCaptionAt[1]));
        ctx.font = `26px ${FONT}`;
        ctx.textAlign = "center";
        notes.forEach((n) => {
          ctx.fillText(n.text, xs.getPixelForValue(n.at[0]), ys.getPixelForValue(n.at[1]));
        });
        ctx.restore();
      },
    };

    const chart = new Chart(canvas, {
      type: "scatter",
      data: { datasets },
      options: {
        responsive: false,
        animation: false,
        devicePixelRatio: 1,
        events: [],
        layout: { padding: 0 },
        plugins: { legend: { display: false }, tooltip: { enabled: false } },
        scales: {
          x: { type: "linear", min: 0, max: 90, display: false },
          y: { type: "linear", min: 0, max: 90, reverse: true, display: false },
        },
      },
      plugins: [panelDecor],
    } as any);

    return () => chart.destroy();
  }, []);

  return (
    <canvas
      ref={ref}
      width={PANEL_SIZE}
      height={PANEL_SIZE}
      style={{ position: "absolute", left: PANEL_LEFT[col], top: PANEL_TOP[row], width: PANEL_SIZE, height: PANEL_SIZE }}
    />
  );
}

function AxisArrows() {
  return (
    <svg width={1073} height={698} style={{ position: "absolute", left: 0, top: 0 }}>
      <line x1={40.7} y1={52.7} x2={168} y2={52.7} stroke={INK} strokeWidth={2} />
      <polygon points="166,45 166,60.5 181,52.7" fill={INK} />
      <line x1={40.7} y1={52.7} x2={40.7} y2={181} stroke={INK} strokeWidth={2} />
      <polygon points="33.2,180 48.2,180 40.7,193" fill={INK} />
    </svg>
  );
}

const abs = (left: number, top: number, extra: React.CSSProperties = {}): React.CSSProperties => ({
  position: "absolute", left, top, whiteSpace: "nowrap", lineHeight: 1, ...extra,
});

export default function App() {
  return (
    <div
      style={{
        position: "absolute", left: 0, top: 0, width: 1073, height: 698,
        background: "#ffffff", fontFamily: FONT, color: INK, overflow: "hidden",
      }}
    >
      <AxisArrows />
      <div style={abs(131, 13, { fontSize: 34 })}>φ</div>
      <div style={abs(157, 31, { fontSize: 15 })}>1</div>
      <div style={abs(7, 143, { fontSize: 34 })}>Φ</div>

      {panels.map((p, i) => (
        <OdfPanel key={i} {...p} />
      ))}

      {rowLabels.map((t, i) => (
        <div
          key={t}
          style={abs(51, i === 0 ? 288 : 619, {
            fontSize: 28,
            transform: "translate(-50%, -50%) rotate(-90deg)",
          })}
        >
          {t}
        </div>
      ))}

      {columnLabels.map((t, i) => (
        <div
          key={t}
          style={abs(PANEL_LEFT[i] + PANEL_SIZE / 2 - 4, 685, { fontSize: 28, transform: "translate(-50%, -50%)" })}
        >
          {t}
        </div>
      ))}

      <div style={abs(965, 423, { fontSize: 29, fontWeight: "bold", color: "#222" })}>
        φ<span style={{ fontSize: 14, position: "relative", top: 6, marginRight: 8 }}>2</span>= 45°
      </div>
      {levelTicks.map((t, i) => {
        const cy = 476 + i * 26.5;
        return (
          <React.Fragment key={t}>
            <div
              style={{
                position: "absolute", left: 967, top: cy - 2, width: 46, height: 4,
                borderRadius: 2, background: levelColors[i],
              }}
            />
            <div style={abs(1020, cy - 12, { fontSize: 24 })}>{t}</div>
          </React.Fragment>
        );
      })}
    </div>
  );
}
